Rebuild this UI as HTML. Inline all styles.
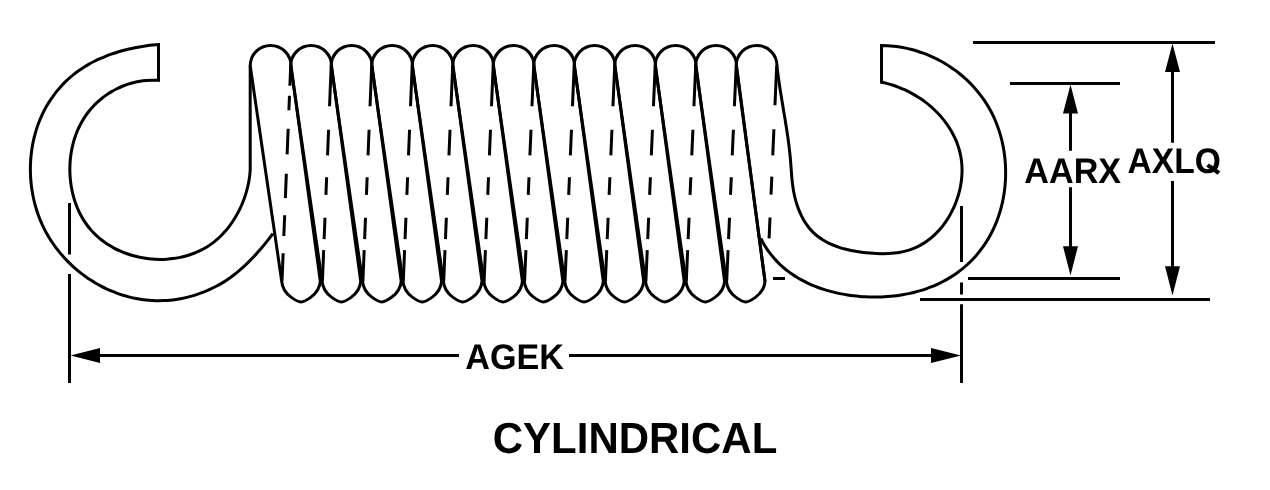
<!DOCTYPE html>
<html><head><meta charset="utf-8"><style>
html,body{margin:0;padding:0;background:#fff;width:1270px;height:490px;overflow:hidden}
svg{display:block;will-change:transform}
text{font-family:"Liberation Sans",sans-serif}
</style></head><body>
<svg width="1270" height="490" viewBox="0 0 1270 490">
<g fill="none" stroke="#000" stroke-width="3" stroke-linejoin="round">
<path d="M250.2,65.8 A20.4,20.4 0 0 1 291.00,65.8 L320.3,281.3 C319.15,295.90 303.00,301.9 301.00,301.9 C299.00,301.9 282.85,295.90 281.70,281.3 Z"/>
<path d="M290.7,65.8 A20.4,20.4 0 0 1 331.50,65.8 L360.7,281.3 C359.58,295.90 343.43,301.9 341.43,301.9 C339.43,301.9 323.28,295.90 322.13,281.3 Z"/>
<path d="M331.2,65.8 A20.4,20.4 0 0 1 372.00,65.8 L401.2,281.3 C400.01,295.90 383.86,301.9 381.86,301.9 C379.86,301.9 363.71,295.90 362.56,281.3 Z"/>
<path d="M371.7,65.8 A20.4,20.4 0 0 1 412.50,65.8 L441.6,281.3 C440.44,295.90 424.29,301.9 422.29,301.9 C420.29,301.9 404.14,295.90 402.99,281.3 Z"/>
<path d="M412.2,65.8 A20.4,20.4 0 0 1 453.00,65.8 L482.0,281.3 C480.87,295.90 464.72,301.9 462.72,301.9 C460.72,301.9 444.57,295.90 443.42,281.3 Z"/>
<path d="M452.7,65.8 A20.4,20.4 0 0 1 493.50,65.8 L522.4,281.3 C521.30,295.90 505.15,301.9 503.15,301.9 C501.15,301.9 485.00,295.90 483.85,281.3 Z"/>
<path d="M493.2,65.8 A20.4,20.4 0 0 1 534.00,65.8 L562.9,281.3 C561.73,295.90 545.58,301.9 543.58,301.9 C541.58,301.9 525.43,295.90 524.28,281.3 Z"/>
<path d="M533.7,65.8 A20.4,20.4 0 0 1 574.50,65.8 L603.3,281.3 C602.16,295.90 586.01,301.9 584.01,301.9 C582.01,301.9 565.86,295.90 564.71,281.3 Z"/>
<path d="M574.2,65.8 A20.4,20.4 0 0 1 615.00,65.8 L643.7,281.3 C642.59,295.90 626.44,301.9 624.44,301.9 C622.44,301.9 606.29,295.90 605.14,281.3 Z"/>
<path d="M614.7,65.8 A20.4,20.4 0 0 1 655.50,65.8 L684.2,281.3 C683.02,295.90 666.87,301.9 664.87,301.9 C662.87,301.9 646.72,295.90 645.57,281.3 Z"/>
<path d="M655.2,65.8 A20.4,20.4 0 0 1 696.00,65.8 L724.6,281.3 C723.45,295.90 707.30,301.9 705.30,301.9 C703.30,301.9 687.15,295.90 686.00,281.3 Z"/>
<path d="M695.7,65.8 A20.4,20.4 0 0 1 736.50,65.8 L765.0,281.3 C763.88,295.90 747.73,301.9 745.73,301.9 C743.73,301.9 727.58,295.90 726.43,281.3 Z"/>
<path d="M250.2,65.8 L250.2,170.0 C250.09,171.95 249.91,173.91 249.67,175.87 C249.43,177.84 249.13,179.82 248.76,181.79 C248.40,183.77 247.97,185.75 247.49,187.72 C247.01,189.70 246.46,191.67 245.86,193.63 C245.26,195.59 244.60,197.54 243.88,199.47 C243.17,201.40 242.39,203.32 241.57,205.22 C240.74,207.11 239.85,208.99 238.92,210.84 C237.98,212.68 236.99,214.50 235.94,216.29 C234.90,218.08 233.80,219.83 232.66,221.54 C231.51,223.26 230.31,224.93 229.06,226.56 C227.82,228.19 226.52,229.78 225.17,231.31 C223.83,232.85 222.44,234.33 221.00,235.76 C219.56,237.18 218.07,238.56 216.54,239.86 C215.00,241.17 213.43,242.42 211.81,243.60 C210.19,244.78 208.52,245.89 206.82,246.93 C205.11,247.97 203.37,248.95 201.59,249.86 C199.81,250.77 198.00,251.61 196.16,252.39 C194.32,253.16 192.45,253.87 190.55,254.52 C188.65,255.16 186.73,255.74 184.79,256.26 C182.85,256.77 180.88,257.22 178.90,257.61 C176.92,258.00 174.93,258.32 172.92,258.58 C170.92,258.84 168.90,259.03 166.88,259.17 C164.85,259.30 162.82,259.37 160.79,259.38 C158.76,259.39 156.73,259.34 154.70,259.22 C152.66,259.11 150.64,258.93 148.62,258.70 C146.60,258.46 144.58,258.17 142.58,257.81 C140.58,257.46 138.59,257.04 136.62,256.56 C134.65,256.09 132.69,255.56 130.76,254.96 C128.82,254.37 126.91,253.72 125.03,253.01 C123.14,252.30 121.28,251.54 119.45,250.71 C117.62,249.89 115.82,249.01 114.06,248.07 C112.30,247.13 110.57,246.14 108.88,245.09 C107.20,244.04 105.55,242.94 103.95,241.78 C102.34,240.62 100.79,239.40 99.28,238.13 C97.77,236.86 96.31,235.54 94.91,234.16 C93.50,232.78 92.15,231.35 90.86,229.87 C89.57,228.39 88.34,226.85 87.16,225.26 C85.99,223.68 84.88,222.04 83.82,220.37 C82.77,218.69 81.77,216.97 80.84,215.21 C79.90,213.45 79.02,211.65 78.21,209.82 C77.39,207.99 76.63,206.13 75.93,204.23 C75.24,202.34 74.60,200.41 74.02,198.47 C73.44,196.52 72.93,194.55 72.47,192.56 C72.01,190.57 71.61,188.56 71.27,186.54 C70.94,184.52 70.66,182.48 70.44,180.44 C70.23,178.39 70.07,176.33 69.97,174.27 C69.88,172.21 69.84,170.15 69.87,168.09 C69.89,166.02 69.98,163.96 70.12,161.90 C70.27,159.84 70.48,157.79 70.75,155.75 C71.01,153.71 71.34,151.67 71.73,149.66 C72.12,147.64 72.57,145.64 73.09,143.66 C73.60,141.68 74.17,139.71 74.81,137.78 C75.44,135.84 76.14,133.93 76.90,132.05 C77.65,130.16 78.47,128.31 79.35,126.50 C80.23,124.68 81.18,122.89 82.18,121.15 C83.19,119.41 84.25,117.70 85.38,116.04 C86.51,114.39 87.70,112.77 88.95,111.20 C90.20,109.64 91.51,108.12 92.87,106.65 C94.24,105.18 95.66,103.76 97.13,102.40 C98.60,101.03 100.12,99.72 101.68,98.47 C103.25,97.21 104.86,96.01 106.52,94.87 C108.18,93.73 109.87,92.65 111.61,91.63 C113.35,90.61 115.12,89.65 116.93,88.75 C118.74,87.86 120.58,87.03 122.46,86.26 C124.33,85.50 126.23,84.80 128.16,84.17 C130.09,83.54 132.05,82.98 134.02,82.50 C136.00,82.01 138.00,81.60 140.01,81.26 C142.03,80.92 144.06,80.66 146.10,80.47 C148.15,80.28 150.21,80.17 152.28,80.14 C154.34,80.12 156.42,80.17 158.50,80.30 L158.5,44.5 C156.58,44.65 154.64,44.82 152.69,45.03 C150.74,45.24 148.78,45.47 146.81,45.74 C144.84,46.01 142.86,46.31 140.88,46.65 C138.90,46.98 136.91,47.34 134.93,47.74 C132.94,48.14 130.96,48.57 128.97,49.04 C126.99,49.50 125.01,50.00 123.04,50.54 C121.06,51.07 119.10,51.64 117.14,52.24 C115.19,52.85 113.24,53.49 111.31,54.17 C109.38,54.85 107.47,55.56 105.57,56.31 C103.67,57.06 101.79,57.85 99.94,58.68 C98.08,59.51 96.24,60.37 94.43,61.28 C92.62,62.18 90.83,63.13 89.08,64.11 C87.32,65.10 85.59,66.13 83.90,67.19 C82.21,68.26 80.54,69.36 78.92,70.51 C77.29,71.66 75.70,72.85 74.15,74.08 C72.60,75.31 71.08,76.58 69.60,77.89 C68.13,79.20 66.68,80.54 65.28,81.92 C63.88,83.30 62.52,84.72 61.19,86.17 C59.87,87.62 58.58,89.11 57.33,90.63 C56.09,92.14 54.88,93.69 53.72,95.27 C52.55,96.86 51.43,98.47 50.35,100.11 C49.26,101.75 48.22,103.41 47.23,105.11 C46.23,106.80 45.27,108.53 44.36,110.27 C43.45,112.02 42.58,113.79 41.75,115.59 C40.93,117.39 40.15,119.21 39.41,121.05 C38.68,122.89 37.99,124.75 37.34,126.63 C36.70,128.51 36.10,130.41 35.54,132.33 C34.99,134.25 34.48,136.18 34.01,138.13 C33.55,140.07 33.13,142.04 32.75,144.01 C32.38,145.98 32.04,147.97 31.76,149.96 C31.47,151.95 31.23,153.96 31.04,155.97 C30.84,157.98 30.69,159.99 30.58,162.01 C30.47,164.03 30.41,166.06 30.39,168.08 C30.38,170.11 30.41,172.14 30.48,174.16 C30.55,176.19 30.67,178.22 30.83,180.24 C30.99,182.26 31.20,184.28 31.45,186.29 C31.70,188.31 31.99,190.31 32.33,192.31 C32.67,194.31 33.06,196.30 33.49,198.28 C33.92,200.26 34.39,202.23 34.91,204.19 C35.43,206.15 35.99,208.09 36.60,210.02 C37.21,211.94 37.86,213.85 38.56,215.75 C39.25,217.64 39.99,219.52 40.78,221.37 C41.57,223.22 42.40,225.06 43.27,226.87 C44.14,228.68 45.06,230.47 46.02,232.23 C46.98,233.99 47.98,235.73 49.03,237.45 C50.07,239.16 51.15,240.85 52.27,242.51 C53.40,244.18 54.56,245.81 55.75,247.42 C56.95,249.03 58.18,250.61 59.45,252.16 C60.72,253.71 62.03,255.23 63.37,256.73 C64.70,258.22 66.08,259.68 67.48,261.11 C68.88,262.54 70.32,263.94 71.78,265.31 C73.25,266.68 74.74,268.01 76.27,269.31 C77.79,270.61 79.34,271.88 80.92,273.11 C82.50,274.34 84.10,275.53 85.73,276.69 C87.36,277.85 89.02,278.97 90.70,280.06 C92.37,281.14 94.07,282.19 95.80,283.20 C97.52,284.21 99.26,285.18 101.03,286.11 C102.79,287.04 104.57,287.93 106.37,288.78 C108.18,289.62 109.99,290.43 111.83,291.19 C113.66,291.96 115.52,292.68 117.38,293.36 C119.25,294.04 121.13,294.67 123.02,295.26 C124.91,295.85 126.82,296.39 128.74,296.89 C130.65,297.39 132.58,297.84 134.52,298.24 C136.46,298.64 138.40,299.00 140.36,299.31 C142.31,299.61 144.27,299.87 146.24,300.08 C148.21,300.29 150.18,300.45 152.16,300.55 C154.14,300.66 156.12,300.72 158.10,300.72 C160.09,300.73 162.07,300.68 164.06,300.59 C166.04,300.50 168.02,300.36 170.00,300.16 C171.98,299.97 173.96,299.73 175.93,299.44 C177.90,299.15 179.87,298.82 181.83,298.43 C183.79,298.05 185.74,297.62 187.68,297.14 C189.62,296.66 191.55,296.14 193.47,295.57 C195.39,294.99 197.29,294.38 199.18,293.71 C201.07,293.05 202.95,292.34 204.81,291.59 C206.67,290.84 208.51,290.04 210.33,289.20 C212.15,288.35 213.96,287.47 215.74,286.54 C217.52,285.61 219.28,284.63 221.01,283.62 C222.74,282.60 224.45,281.54 226.14,280.44 C227.82,279.34 229.48,278.20 231.11,277.01 C232.74,275.83 234.34,274.61 235.92,273.35 C237.50,272.09 239.05,270.80 240.58,269.47 C242.10,268.15 243.60,266.79 245.08,265.41 C246.56,264.03 248.01,262.62 249.44,261.18 C250.88,259.75 252.28,258.29 253.67,256.82 C255.05,255.34 256.42,253.84 257.76,252.33 C259.10,250.82 260.42,249.29 261.72,247.75 C263.02,246.21 264.30,244.66 265.56,243.11 C266.82,241.55 268.06,239.98 269.29,238.41 C270.51,236.84 271.71,235.27 272.90,233.70" stroke-linejoin="miter"/>
<path d="M765.0,281.3 L736.2,65.8 A20.4,20.4 0 0 1 777.00,65.80 C777.21,67.82 777.44,69.83 777.69,71.83 C777.93,73.83 778.19,75.83 778.46,77.82 C778.72,79.81 779.00,81.80 779.29,83.78 C779.58,85.76 779.88,87.74 780.18,89.71 C780.49,91.68 780.80,93.65 781.12,95.61 C781.43,97.58 781.75,99.54 782.08,101.50 C782.40,103.46 782.73,105.42 783.06,107.37 C783.38,109.33 783.71,111.29 784.04,113.24 C784.36,115.20 784.69,117.15 785.01,119.11 C785.33,121.06 785.65,123.02 785.96,124.98 C786.28,126.94 786.58,128.90 786.88,130.86 C787.18,132.82 787.47,134.79 787.76,136.75 C788.04,138.72 788.31,140.70 788.57,142.67 C788.83,144.65 789.08,146.63 789.31,148.61 C789.55,150.60 789.77,152.59 789.97,154.59 C790.18,156.59 790.37,158.59 790.54,160.60 C790.70,162.61 790.85,164.63 791.00,166.65 C791.14,168.67 791.29,170.70 791.44,172.73 C791.59,174.76 791.75,176.79 791.94,178.82 C792.13,180.86 792.35,182.89 792.61,184.91 C792.88,186.94 793.18,188.96 793.55,190.98 C793.91,193.00 794.33,195.01 794.80,197.00 C795.28,198.99 795.81,200.96 796.40,202.91 C796.99,204.85 797.64,206.77 798.35,208.65 C799.07,210.54 799.84,212.39 800.68,214.19 C801.51,215.99 802.42,217.75 803.38,219.46 C804.35,221.16 805.38,222.81 806.49,224.40 C807.59,225.99 808.76,227.52 810.00,228.97 C811.24,230.43 812.55,231.81 813.94,233.11 C815.32,234.41 816.78,235.64 818.30,236.79 C819.82,237.94 821.41,239.01 823.05,240.02 C824.69,241.02 826.39,241.96 828.14,242.83 C829.89,243.70 831.69,244.51 833.53,245.25 C835.37,246.00 837.25,246.68 839.17,247.31 C841.09,247.93 843.05,248.51 845.03,249.03 C847.01,249.54 849.02,250.01 851.06,250.43 C853.09,250.85 855.14,251.22 857.21,251.55 C859.27,251.88 861.35,252.17 863.44,252.42 C865.52,252.67 867.62,252.87 869.71,253.05 C871.80,253.22 873.89,253.37 875.97,253.47 C878.06,253.57 880.14,253.63 882.20,253.64 C884.27,253.65 886.33,253.61 888.36,253.51 C890.40,253.42 892.43,253.26 894.43,253.05 C896.43,252.83 898.41,252.55 900.36,252.20 C902.32,251.85 904.24,251.43 906.14,250.92 C908.03,250.42 909.90,249.84 911.72,249.17 C913.55,248.50 915.34,247.75 917.09,246.91 C918.84,246.07 920.55,245.15 922.22,244.16 C923.89,243.17 925.52,242.10 927.10,240.96 C928.69,239.82 930.23,238.61 931.73,237.34 C933.22,236.06 934.67,234.72 936.07,233.33 C937.47,231.93 938.83,230.48 940.13,228.97 C941.44,227.46 942.69,225.90 943.89,224.29 C945.09,222.68 946.24,221.03 947.33,219.33 C948.43,217.63 949.47,215.89 950.45,214.12 C951.43,212.34 952.36,210.53 953.23,208.69 C954.09,206.85 954.90,204.98 955.65,203.08 C956.40,201.18 957.08,199.26 957.70,197.32 C958.32,195.38 958.88,193.42 959.38,191.45 C959.87,189.48 960.30,187.49 960.66,185.50 C961.01,183.51 961.31,181.51 961.53,179.50 C961.75,177.50 961.90,175.50 961.98,173.50 C962.06,171.49 962.06,169.50 962.00,167.51 C961.93,165.52 961.79,163.54 961.57,161.58 C961.35,159.61 961.05,157.67 960.68,155.74 C960.30,153.81 959.85,151.90 959.33,150.01 C958.81,148.13 958.21,146.26 957.54,144.42 C956.87,142.58 956.14,140.76 955.34,138.97 C954.53,137.18 953.67,135.41 952.74,133.68 C951.81,131.94 950.81,130.23 949.76,128.55 C948.71,126.88 947.60,125.23 946.44,123.62 C945.28,122.00 944.06,120.42 942.79,118.88 C941.52,117.33 940.20,115.82 938.83,114.35 C937.47,112.87 936.05,111.44 934.59,110.04 C933.14,108.65 931.64,107.29 930.09,105.97 C928.55,104.66 926.97,103.39 925.35,102.16 C923.74,100.93 922.08,99.75 920.40,98.61 C918.71,97.47 916.99,96.38 915.25,95.34 C913.50,94.29 911.72,93.30 909.92,92.36 C908.12,91.41 906.30,90.52 904.45,89.68 C902.60,88.84 900.73,88.06 898.85,87.33 C896.96,86.60 895.06,85.92 893.14,85.30 C891.22,84.68 889.29,84.12 887.35,83.62 C885.41,83.12 883.46,82.68 881.50,82.30 L881.5,45.5 C883.56,45.52 885.61,45.59 887.66,45.71 C889.70,45.83 891.74,46.00 893.77,46.22 C895.80,46.44 897.82,46.72 899.82,47.04 C901.83,47.36 903.83,47.73 905.81,48.14 C907.80,48.56 909.77,49.02 911.72,49.54 C913.68,50.05 915.62,50.60 917.54,51.21 C919.47,51.81 921.37,52.46 923.26,53.15 C925.15,53.84 927.03,54.58 928.88,55.36 C930.73,56.14 932.56,56.96 934.37,57.83 C936.18,58.69 937.97,59.60 939.74,60.54 C941.50,61.49 943.24,62.47 944.96,63.50 C946.68,64.53 948.37,65.59 950.03,66.70 C951.70,67.80 953.33,68.94 954.94,70.12 C956.55,71.30 958.13,72.51 959.68,73.77 C961.24,75.02 962.76,76.30 964.24,77.63 C965.73,78.95 967.19,80.30 968.61,81.69 C970.03,83.08 971.42,84.50 972.78,85.96 C974.13,87.41 975.45,88.90 976.73,90.42 C978.01,91.94 979.25,93.49 980.46,95.07 C981.66,96.64 982.83,98.25 983.95,99.89 C985.08,101.53 986.16,103.19 987.21,104.89 C988.25,106.58 989.25,108.30 990.20,110.05 C991.16,111.79 992.07,113.57 992.94,115.36 C993.81,117.16 994.63,118.98 995.41,120.83 C996.18,122.67 996.92,124.53 997.61,126.42 C998.30,128.30 998.94,130.20 999.54,132.12 C1000.14,134.04 1000.70,135.98 1001.21,137.93 C1001.72,139.88 1002.19,141.84 1002.61,143.82 C1003.03,145.79 1003.41,147.78 1003.74,149.78 C1004.08,151.78 1004.37,153.78 1004.61,155.79 C1004.86,157.81 1005.06,159.83 1005.22,161.85 C1005.37,163.87 1005.49,165.90 1005.56,167.93 C1005.62,169.96 1005.65,171.99 1005.63,174.03 C1005.61,176.06 1005.54,178.09 1005.44,180.11 C1005.33,182.14 1005.17,184.17 1004.98,186.18 C1004.78,188.20 1004.54,190.21 1004.26,192.22 C1003.97,194.22 1003.64,196.22 1003.27,198.21 C1002.90,200.19 1002.48,202.17 1002.02,204.13 C1001.56,206.09 1001.05,208.04 1000.50,209.98 C999.95,211.91 999.36,213.83 998.72,215.73 C998.09,217.63 997.41,219.51 996.68,221.37 C995.96,223.23 995.19,225.07 994.37,226.89 C993.56,228.71 992.70,230.51 991.80,232.28 C990.90,234.05 989.96,235.79 988.97,237.51 C987.98,239.22 986.95,240.91 985.88,242.57 C984.80,244.23 983.69,245.86 982.53,247.46 C981.38,249.06 980.18,250.63 978.94,252.16 C977.71,253.69 976.43,255.19 975.12,256.66 C973.81,258.12 972.46,259.55 971.07,260.95 C969.69,262.34 968.26,263.70 966.81,265.01 C965.35,266.33 963.86,267.61 962.33,268.85 C960.81,270.09 959.25,271.29 957.66,272.44 C956.07,273.60 954.45,274.72 952.80,275.79 C951.15,276.87 949.47,277.91 947.76,278.90 C946.06,279.89 944.33,280.85 942.57,281.76 C940.81,282.67 939.03,283.54 937.22,284.36 C935.42,285.19 933.59,285.97 931.74,286.72 C929.89,287.46 928.02,288.16 926.13,288.82 C924.24,289.48 922.33,290.10 920.40,290.67 C918.48,291.25 916.54,291.79 914.58,292.28 C912.63,292.78 910.66,293.24 908.67,293.65 C906.69,294.07 904.69,294.45 902.69,294.79 C900.68,295.13 898.66,295.43 896.64,295.69 C894.61,295.95 892.58,296.17 890.54,296.36 C888.50,296.55 886.46,296.69 884.41,296.81 C882.36,296.92 880.30,296.99 878.25,297.03 C876.19,297.07 874.13,297.07 872.07,297.04 C870.02,297.00 867.96,296.93 865.90,296.83 C863.85,296.72 861.79,296.58 859.75,296.41 C857.70,296.24 855.65,296.03 853.61,295.78 C851.58,295.54 849.54,295.26 847.52,294.95 C845.50,294.64 843.48,294.29 841.48,293.90 C839.48,293.52 837.49,293.10 835.51,292.64 C833.53,292.18 831.57,291.69 829.62,291.15 C827.67,290.62 825.74,290.05 823.82,289.44 C821.91,288.83 820.01,288.18 818.14,287.49 C816.27,286.80 814.41,286.07 812.58,285.30 C810.75,284.53 808.94,283.72 807.16,282.86 C805.38,282.01 803.62,281.12 801.89,280.18 C800.17,279.24 798.46,278.26 796.79,277.24 C795.12,276.22 793.48,275.15 791.88,274.04 C790.27,272.93 788.70,271.77 787.16,270.57 C785.62,269.37 784.11,268.13 782.64,266.84 C781.18,265.54 779.75,264.21 778.36,262.82 C776.97,261.44 775.62,260.00 774.31,258.52 C773.00,257.04 771.74,255.51 770.52,253.94 C769.30,252.36 768.12,250.74 766.99,249.06 C765.86,247.38 764.78,245.66 763.75,243.88 C762.71,242.11 761.73,240.28 760.80,238.40" stroke-linejoin="miter"/>
</g>
<g fill="none" stroke="#000" stroke-width="3">
<path d="M290.7,65.8 L282.0,281.3" stroke-dasharray="20 10 14.5 18.5 25.6 19.4 24.4 17.2 20.8 17.2 30"/>
<path d="M331.2,65.8 L322.4,281.3" stroke-dasharray="40.5 23.5 25.7 21.9 17.6 22.9 21.4 11 40"/>
<path d="M371.7,65.8 L362.9,281.3" stroke-dasharray="40.5 23.5 25.7 21.9 17.6 22.9 21.4 11 40"/>
<path d="M412.2,65.8 L403.3,281.3" stroke-dasharray="40.5 23.5 25.7 21.9 17.6 22.9 21.4 11 40"/>
<path d="M452.7,65.8 L443.7,281.3" stroke-dasharray="40.5 23.5 25.7 21.9 17.6 22.9 21.4 11 40"/>
<path d="M493.2,65.8 L484.1,281.3" stroke-dasharray="40.5 23.5 25.7 21.9 17.6 22.9 21.4 11 40"/>
<path d="M533.7,65.8 L524.6,281.3" stroke-dasharray="40.5 23.5 25.7 21.9 17.6 22.9 21.4 11 40"/>
<path d="M574.2,65.8 L565.0,281.3" stroke-dasharray="40.5 23.5 25.7 21.9 17.6 22.9 21.4 11 40"/>
<path d="M614.7,65.8 L605.4,281.3" stroke-dasharray="40.5 23.5 25.7 21.9 17.6 22.9 21.4 11 40"/>
<path d="M655.2,65.8 L645.9,281.3" stroke-dasharray="40.5 23.5 25.7 21.9 17.6 22.9 21.4 11 40"/>
<path d="M695.7,65.8 L686.3,281.3" stroke-dasharray="40.5 23.5 25.7 21.9 17.6 22.9 21.4 11 40"/>
<path d="M736.2,65.8 L726.7,281.3" stroke-dasharray="40.5 23.5 25.7 21.9 17.6 22.9 21.4 11 40"/>
<path d="M776.7,65.8 L767.2,281.3" stroke-dasharray="39.5 24 26.2 21.2 18 22.9 21 100"/>
</g>
<path d="M773,278.5 H785" stroke="#000" stroke-width="3"/>
<path d="M69.5,203 V254.5 M69.5,274 V383 M961.5,206 V262 M961.5,282.5 V294.5 M961.5,304.3 V383 M100,355.5 H459 M569,355.5 H931 M973,42.5 H1215 M920,299.5 H1210 M1010,83.5 H1120 M968,278.5 H1120 M1070.5,112 V150.8 M1070.5,187.2 V248 M1172.5,70 V142.8 M1172.5,180.9 V268" stroke="#000" stroke-width="3" fill="none"/>
<path d="M70.5,355.5 L100,348 L100,363 Z M961,355.5 L931,348 L931,363 Z M1172.5,43.5 L1165,72 L1180,72 Z M1172.5,295.5 L1165,266.3 L1180,266.3 Z M1070.5,84.5 L1063,113.4 L1078,113.4 Z M1070.5,275.5 L1063,246.2 L1078,246.2 Z" fill="#000"/>
<text transform="translate(465.3,368.8) scale(0.962,1)" font-family="Liberation Sans, sans-serif" font-weight="bold" font-size="35.5" text-anchor="start" text-rendering="geometricPrecision">AGEK</text>
<text transform="translate(1024.3,182.8) scale(0.962,1)" font-family="Liberation Sans, sans-serif" font-weight="bold" font-size="35.5" text-anchor="start" text-rendering="geometricPrecision">AARX</text>
<text transform="translate(1127.6,172.8) scale(0.945,1)" font-family="Liberation Sans, sans-serif" font-weight="bold" font-size="35.5" text-anchor="start" text-rendering="geometricPrecision">AXLO</text>
<path d="M1206.2,166.6 L1209,163.5 L1220.3,171.6 L1217.6,174.8 Z" fill="#000"/>
<text transform="translate(492.8,452.8) scale(0.965,1)" font-family="Liberation Sans, sans-serif" font-weight="bold" font-size="43.5" text-anchor="start" text-rendering="geometricPrecision">CYLINDRICAL</text>
</svg>
</body></html>
